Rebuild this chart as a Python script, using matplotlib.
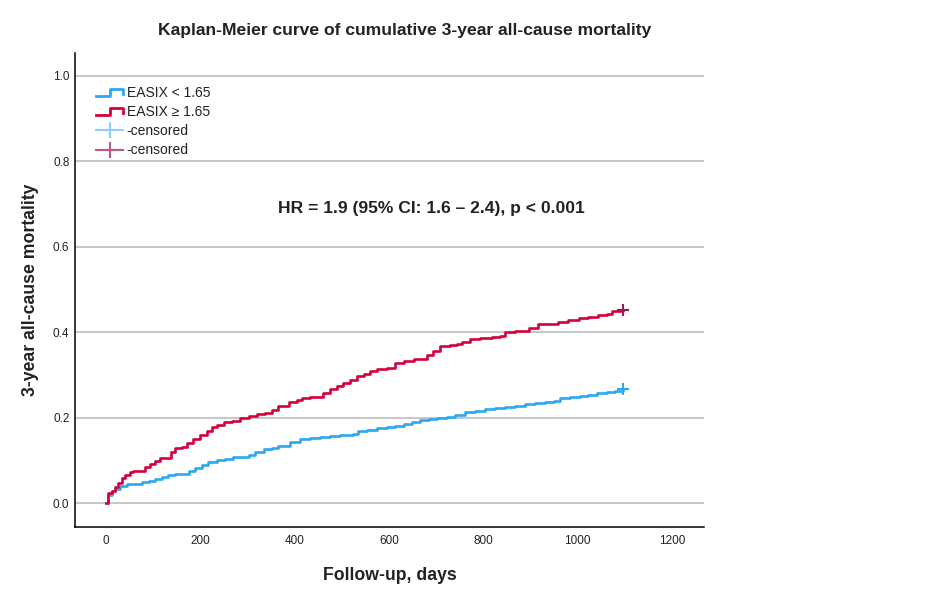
import matplotlib
matplotlib.use("Agg")
import matplotlib.pyplot as plt
from matplotlib.lines import Line2D
from matplotlib.legend_handler import HandlerBase

plt.rcParams['font.family'] = ['Liberation Sans', 'DejaVu Sans']

# ---- data ----
low_days = [0, 5, 12, 19, 30, 44, 61, 76, 90, 104, 118, 132, 146, 160, 175, 189, 203, 217,
            235, 252, 270, 302, 316, 334, 351, 365, 390, 411, 433, 454, 475, 496, 524, 535,
            553, 574, 595, 613, 631, 648, 666, 684, 701, 723, 740, 761, 783, 804, 825, 846,
            867, 889, 910, 931, 949, 963, 984, 1005, 1023, 1041, 1062, 1080, 1097]
low_mort = [0.0, 0.02, 0.028, 0.034, 0.04, 0.044, 0.045, 0.05, 0.052, 0.056, 0.062, 0.065,
            0.067, 0.069, 0.075, 0.083, 0.09, 0.097, 0.101, 0.104, 0.108, 0.112, 0.12, 0.126,
            0.129, 0.133, 0.143, 0.149, 0.153, 0.155, 0.157, 0.159, 0.161, 0.169, 0.172, 0.175,
            0.177, 0.18, 0.185, 0.189, 0.194, 0.196, 0.2, 0.202, 0.206, 0.212, 0.216, 0.219,
            0.222, 0.224, 0.228, 0.231, 0.233, 0.236, 0.239, 0.245, 0.247, 0.251, 0.253, 0.257,
            0.259, 0.263, 0.266]

high_days = [0, 3, 12, 19, 26, 33, 40, 51, 58, 83, 93, 104, 115, 132, 137, 146, 160, 172,
             185, 199, 214, 224, 235, 249, 267, 284, 302, 320, 337, 351, 365, 387, 404, 415,
             433, 450, 461, 475, 489, 503, 517, 532, 546, 560, 574, 595, 613, 631, 652, 670,
             680, 694, 708, 730, 744, 754, 772, 793, 818, 836, 845, 867, 896, 917, 938, 959,
             980, 1002, 1023, 1044, 1062, 1073, 1097]
high_mort = [0.0, 0.023, 0.028, 0.038, 0.048, 0.058, 0.065, 0.073, 0.076, 0.085, 0.091, 0.099,
             0.105, 0.106, 0.12, 0.129, 0.131, 0.14, 0.151, 0.159, 0.168, 0.178, 0.182, 0.189,
             0.192, 0.198, 0.204, 0.208, 0.21, 0.218, 0.227, 0.237, 0.241, 0.246, 0.247, 0.249,
             0.258, 0.266, 0.274, 0.281, 0.289, 0.297, 0.303, 0.309, 0.313, 0.317, 0.328, 0.333,
             0.336, 0.338, 0.346, 0.356, 0.367, 0.37, 0.372, 0.377, 0.383, 0.387, 0.389, 0.391,
             0.401, 0.402, 0.41, 0.418, 0.42, 0.424, 0.428, 0.432, 0.436, 0.44, 0.442, 0.45,
             0.451]

censor_low = ([1097], [0.266])
censor_high = ([1097], [0.451])

labels = ["EASIX < 1.65", "EASIX \u2265 1.65", "-censored", "-censored"]
x_ticks = [0, 200, 400, 600, 800, 1000, 1200]
y_ticks = [0.0, 0.2, 0.4, 0.6, 0.8, 1.0]

c_low = "#2CA7F2"
c_high = "#D6003B"
c_cens_low = "#8FD0F7"
c_cens_high = "#B85A8A"
c_mark_low = "#2CA7F2"
c_mark_high = "#9B1B5A"

fig = plt.figure(figsize=(9.4, 5.98), dpi=100)
ax = fig.add_axes([75/940, 1 - 527/598, (704-75)/940, (527-53)/598])

for y in y_ticks:
    ax.axhline(y, color="#BEBEBE", lw=1.2, zorder=0)

ax.step(low_days, low_mort, where="post", color=c_low, lw=1.9)
ax.step(high_days, high_mort, where="post", color=c_high, lw=1.9)
ax.plot(*censor_low, marker="+", ms=9, mew=1.5, color=c_mark_low, ls="none")
ax.plot(*censor_high, marker="+", ms=9, mew=1.5, color=c_mark_high, ls="none")

ax.set_xlim(-66, 1268)
ax.set_ylim(-0.056, 1.053)
ax.set_xticks(x_ticks)
ax.set_yticks(y_ticks)
ax.set_yticklabels([f"{v:.1f}" for v in y_ticks])
ax.tick_params(length=0, labelsize=8.5, colors="#222222")
ax.tick_params(axis="y", pad=4)
ax.tick_params(axis="x", pad=6)
for s in ["top", "right"]:
    ax.spines[s].set_visible(False)
for s in ["left", "bottom"]:
    ax.spines[s].set_color("black")
    ax.spines[s].set_linewidth(1.1)


class StepHandler(HandlerBase):
    def create_artists(self, legend, orig_handle, xdescent, ydescent, width, height, fontsize, trans):
        x0, y0 = -xdescent, -ydescent
        xs = [x0, x0 + 0.5*width, x0 + 0.5*width, x0 + width, x0 + width]
        ys = [y0 + 0.15*height, y0 + 0.15*height, y0 + 0.85*height, y0 + 0.85*height, y0 + 0.3*height]
        l = Line2D(xs, ys, color=orig_handle.get_color(), lw=2, transform=trans)
        return [l]


class CensHandler(HandlerBase):
    def create_artists(self, legend, orig_handle, xdescent, ydescent, width, height, fontsize, trans):
        x0, y0 = -xdescent, -ydescent
        l = Line2D([x0, x0 + width], [y0 + 0.5*height]*2, color=orig_handle.get_color(), lw=1.5, transform=trans)
        m = Line2D([x0 + 0.5*width], [y0 + 0.5*height], marker="+", ms=12, mew=1.5,
                   color=orig_handle.get_color(), ls="none", transform=trans)
        return [l, m]


h1 = Line2D([], [], color=c_low)
h2 = Line2D([], [], color=c_high)
h3 = Line2D([], [], color=c_cens_low)
h4 = Line2D([], [], color=c_cens_high)
leg = ax.legend([h1, h2, h3, h4], labels,
                handler_map={h1: StepHandler(), h2: StepHandler(), h3: CensHandler(), h4: CensHandler()},
                loc="upper left", bbox_to_anchor=(96/940, 1 - 86/598), bbox_transform=fig.transFigure,
                frameon=False, fontsize=10, borderpad=0, borderaxespad=0, handlelength=1.95,
                handletextpad=0.25, labelspacing=0.37)
for t in leg.get_texts():
    t.set_color("#222222")

fig.text(405/940, 1 - 30/598, "Kaplan-Meier curve of cumulative 3-year all-cause mortality",
         ha="center", va="center", fontsize=12.6, fontweight="bold", color="#222222")
ax.text(689, 0.69, "HR = 1.9 (95% CI: 1.6 \u2013 2.4), p < 0.001", ha="center", va="center",
        fontsize=12.6, fontweight="bold", color="#222222")
fig.text(390/940, 1 - 575/598, "Follow-up, days", ha="center", va="center",
         fontsize=12.7, fontweight="bold", color="#222222")
fig.text(31/940, 1 - 290/598, "3-year all-cause mortality", ha="center", va="center",
         rotation=90, fontsize=12.7, fontweight="bold", color="#222222")

fig.savefig("out.png", dpi=100)
